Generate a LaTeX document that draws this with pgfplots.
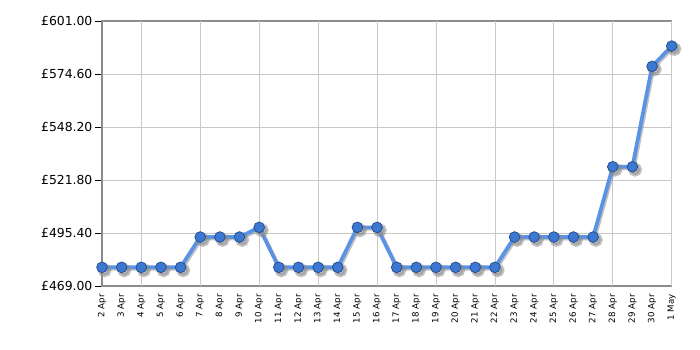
\documentclass[border=0pt]{standalone}
\usepackage{pgfplots}
\pgfplotsset{compat=1.18}
\usepackage{fontspec}
\setmainfont{DejaVu Sans}
\definecolor{linecol}{HTML}{5A92E6}
\definecolor{markfill}{HTML}{3C78D2}
\definecolor{markedge}{HTML}{24508F}
\definecolor{gridcol}{HTML}{C8C8C8}
\definecolor{axiscol}{HTML}{8C8C8C}
\begin{document}
\begin{tikzpicture}
\begin{axis}[
  scale only axis,
  width=427.3pt, height=198.75pt,
  xmin=0, xmax=29, ymin=469, ymax=601,
  xtick={0,...,29},
  xticklabels={2 Apr,3 Apr,4 Apr,5 Apr,6 Apr,7 Apr,8 Apr,9 Apr,10 Apr,11 Apr,12 Apr,13 Apr,14 Apr,15 Apr,16 Apr,17 Apr,18 Apr,19 Apr,20 Apr,21 Apr,22 Apr,23 Apr,24 Apr,25 Apr,26 Apr,27 Apr,28 Apr,29 Apr,30 Apr,1 May},
  xticklabel style={rotate=90, anchor=east, font=\fontsize{6.5}{7}\selectfont, inner sep=1pt},
  extra x ticks={2,5,8,11,14,17,20,23,26,29},
  extra x tick labels={},
  extra x tick style={grid=major, major tick length=4pt, tick style={black, line width=0.6pt}},
  major x tick style={draw=none},
  xtick pos=left, ytick pos=left,
  ytick={469,495.4,521.8,548.2,574.6,601},
  yticklabels={£469.00,£495.40,£521.80,£548.20,£574.60,£601.00},
  yticklabel style={font=\fontsize{9.3}{10}\selectfont, inner sep=2pt},
  ymajorgrids,
  grid style={gridcol, line width=0.6pt},
  tick align=outside,
  major tick length=5pt,
  ytick style={black, line width=0.6pt},
  axis line style={axiscol, line width=0.8pt},
  clip=false,
]
\coordinate (O) at (rel axis cs:0,0);
\addplot[black!45, line width=2.8pt, opacity=0.55,
  mark=*, mark size=3.8pt, mark options={fill=black!45, draw=none},
  transform canvas={shift={(1pt,-1.1pt)}}]
coordinates {
(0,478.3)(1,478.3)(2,478.3)(3,478.3)(4,478.3)(5,493.4)(6,493.4)(7,493.4)(8,498.2)(9,478.3)
(10,478.3)(11,478.3)(12,478.3)(13,498.2)(14,498.2)(15,478.3)(16,478.3)(17,478.3)(18,478.3)(19,478.3)
(20,478.3)(21,493.4)(22,493.4)(23,493.4)(24,493.4)(25,493.4)(26,528.4)(27,528.4)(28,578.4)(29,588.5)};
\addplot[linecol, line width=2.8pt,
  mark=*, mark size=4pt, mark options={fill=markfill, draw=markedge, line width=0.6pt}]
coordinates {
(0,478.3)(1,478.3)(2,478.3)(3,478.3)(4,478.3)(5,493.4)(6,493.4)(7,493.4)(8,498.2)(9,478.3)
(10,478.3)(11,478.3)(12,478.3)(13,498.2)(14,498.2)(15,478.3)(16,478.3)(17,478.3)(18,478.3)(19,478.3)
(20,478.3)(21,493.4)(22,493.4)(23,493.4)(24,493.4)(25,493.4)(26,528.4)(27,528.4)(28,578.4)(29,588.5)};
\end{axis}
\pgfresetboundingbox
\path[use as bounding box] ([xshift=-76.5pt,yshift=-48pt]O) rectangle ++(525pt,262.5pt);
\end{tikzpicture}
\end{document}
